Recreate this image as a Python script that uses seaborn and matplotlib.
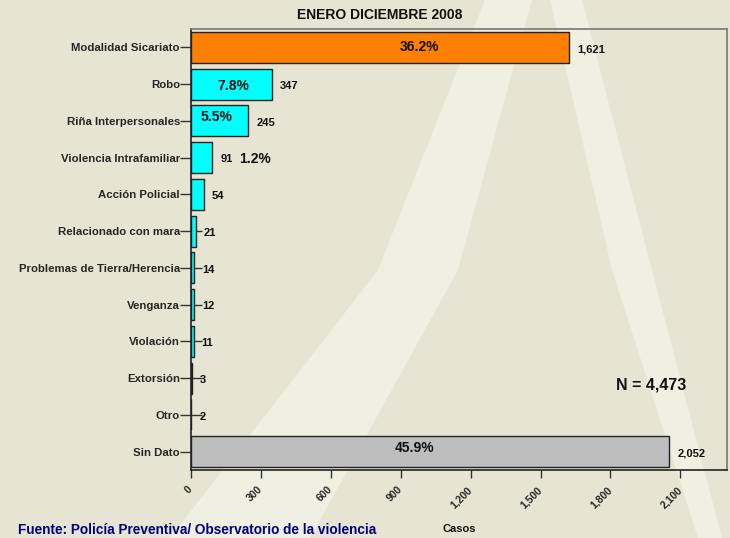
import matplotlib
matplotlib.use('Agg')
import matplotlib.pyplot as plt
import matplotlib.ticker as mticker
from matplotlib.patches import Polygon
import seaborn as sns
import pandas as pd

categorias = ['Modalidad Sicariato', 'Robo', 'Riña Interpersonales', 'Violencia Intrafamiliar',
              'Acción Policial', 'Relacionado con mara', 'Problemas de Tierra/Herencia',
              'Venganza', 'Violación', 'Extorsión', 'Otro', 'Sin Dato']
casos = [1621, 347, 245, 91, 54, 21, 14, 12, 11, 3, 2, 2052]
colores = ['#FF8000'] + ['#00FFFF'] * 10 + ['#BEBEBE']
porcentajes = {'Modalidad Sicariato': '36.2%', 'Robo': '7.8%', 'Riña Interpersonales': '5.5%',
               'Violencia Intrafamiliar': '1.2%', 'Sin Dato': '45.9%'}
x_ticks = [0, 300, 600, 900, 1200, 1500, 1800, 2100]

df = pd.DataFrame({'categoria': categorias, 'casos': casos})

sns.set_theme(style='white')
plt.rcParams['font.family'] = ['Liberation Sans', 'DejaVu Sans']
plt.rcParams['font.weight'] = 'bold'

bg = '#E6E5D3'
fig = plt.figure(figsize=(7.3, 5.38), dpi=100, facecolor=bg)

# light diagonal stripes of the background watermark (pixel coords)
W, H = 730, 538
def stripe(pts):
    return Polygon([(x / W, 1 - y / H) for x, y in pts], closed=True,
                   transform=fig.transFigure, facecolor='#EFEFE2', edgecolor='none', zorder=-10)
fig.patches.append(stripe([(485, 0), (532, 0), (458, 270), (310, 538), (170, 538), (378, 270)]))
fig.patches.append(stripe([(550, 0), (582, 0), (652, 270), (722, 538), (698, 538), (612, 270)]))

ax = fig.add_axes([191 / W, 1 - 470 / H, (727 - 191) / W, (470 - 29) / H])
ax.set_facecolor('none')

sns.barplot(data=df, y='categoria', x='casos', hue='categoria', palette=colores, saturation=1,
            legend=False, orient='h', width=0.85, edgecolor='#222222', linewidth=1, ax=ax)

ax.set_xlim(0, 2300)
ax.set_ylim(11.5, -0.5)
ax.set_xticks(x_ticks)
ax.xaxis.set_major_formatter(mticker.FuncFormatter(lambda v, _: f'{v:,.0f}'))
for lbl in ax.get_xticklabels():
    lbl.set_rotation(45)
    lbl.set_rotation_mode('anchor')
    lbl.set_fontsize(7.5)
    lbl.set_fontweight('bold')
    lbl.set_ha('right')
    lbl.set_va('center')
ax.tick_params(axis='x', direction='out', length=6, width=1, color='#333333', pad=7, bottom=True)
ax.tick_params(axis='y', direction='inout', length=16, width=1, color='#333333', pad=0, left=True,
               labelsize=8.2)
for lbl in ax.get_yticklabels():
    lbl.set_fontweight('bold')

ax.set_xlabel('')
ax.set_ylabel('')
for side in ['left', 'bottom']:
    ax.spines[side].set_color('#222222')
    ax.spines[side].set_linewidth(1.2)
for side in ['top', 'right']:
    ax.spines[side].set_color('#777777')
    ax.spines[side].set_linewidth(1.2)

# value labels
for i, v in enumerate(casos):
    ax.text(v + 35, i + 0.05, f'{v:,}', ha='left', va='center', fontsize=8, fontweight='bold',
            color='#111111')

# percentage labels
pos_pct = {'Modalidad Sicariato': (980, 0.0), 'Robo': (180, 0.05), 'Riña Interpersonales': (110, -0.1),
           'Violencia Intrafamiliar': (275, 0.05), 'Sin Dato': (960, -0.1)}
for cat, txt in porcentajes.items():
    i = categorias.index(cat)
    xp, dy = pos_pct[cat]
    ax.text(xp, i + dy, txt, ha='center', va='center', fontsize=10, fontweight='bold', color='#111111')

ax.text(1975, 9.2, 'N = 4,473', ha='center', va='center', fontsize=11.5, fontweight='bold',
        color='#111111')

fig.text(380 / W, 1 - 15 / H, 'ENERO DICIEMBRE 2008', ha='center', va='center', fontsize=10,
         fontweight='bold', color='#111111')
fig.text(459 / W, 1 - 529 / H, 'Casos', ha='center', va='center', fontsize=8, fontweight='bold',
         color='#111111')
fig.text(18 / W, 1 / H, 'Fuente: Policía Preventiva/ Observatorio de la violencia', ha='left',
         va='bottom', fontsize=9.8, fontweight='bold', color='#000080')

fig.savefig('out.png', dpi=100, facecolor=bg)
